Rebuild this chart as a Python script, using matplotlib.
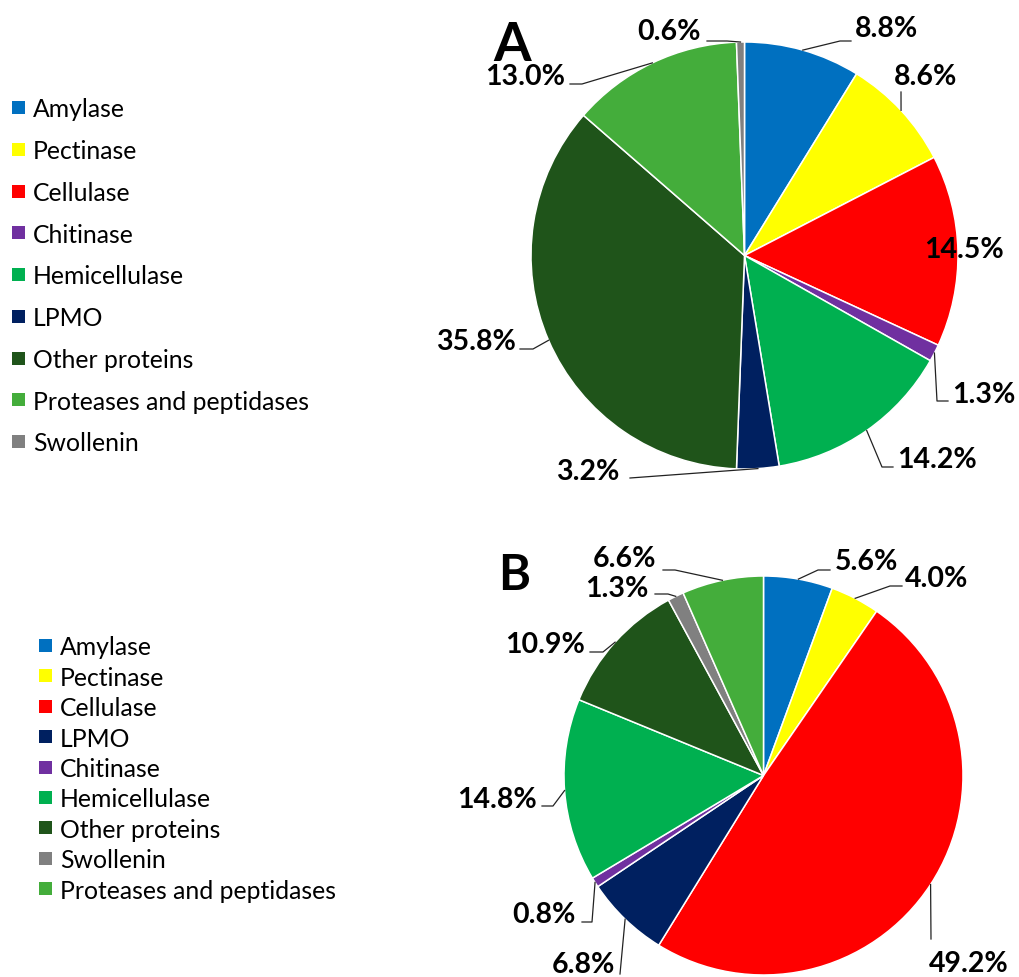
import matplotlib

matplotlib.use("Agg")
import matplotlib.pyplot as plt
import numpy as np
from matplotlib.patches import Rectangle

W, H = 1019, 978

COLORS = {
    "Amylase": "#0070C0",
    "Pectinase": "#FFFF00",
    "Cellulase": "#FF0000",
    "Chitinase": "#7030A0",
    "Hemicellulase": "#00B050",
    "LPMO": "#002060",
    "Other proteins": "#1F541A",
    "Proteases and peptidases": "#44AD3B",
    "Swollenin": "#808080",
}

LABELS_A = ["Amylase", "Pectinase", "Cellulase", "Chitinase", "Hemicellulase",
            "LPMO", "Other proteins", "Proteases and peptidases", "Swollenin"]
VALUES_A = [8.8, 8.6, 14.5, 1.3, 14.2, 3.2, 35.8, 13.0, 0.6]

LABELS_B = ["Amylase", "Pectinase", "Cellulase", "LPMO", "Chitinase",
            "Hemicellulase", "Other proteins", "Swollenin", "Proteases and peptidases"]
VALUES_B = [5.6, 4.0, 49.2, 6.8, 0.8, 14.8, 10.9, 1.3, 6.6]

# label placement in pixel coords: text centre x, text baseline y, leader points
LAYOUT_A = [
    (887, 37, [(840, 42), (851, 42)]),
    (926, 85, [(901, 93)]),
    (964, 258, []),
    (984, 403, [(937, 402), (948, 402)]),
    (937, 468, [(882, 468), (893, 468)]),
    (588, 480, [(630, 479)]),
    (476, 350, [(533, 350), (520, 350)]),
    (525, 85, [(582, 85), (570, 85)]),
    (669, 40, [(727, 42), (707, 42)]),
]
LAYOUT_B = [
    (866, 570, [(818, 571), (830, 571)]),
    (937, 587, [(890, 587), (902, 587)]),
    (969, 972, [(931, 940)]),
    (583, 973, [(620, 975)]),
    (544, 923, [(592, 923), (582, 923)]),
    (497, 808, [(553, 807), (542, 807)]),
    (545, 653, [(603, 653), (590, 653)]),
    (617, 597, [(668, 595), (655, 595)]),
    (625, 567, [(675, 571), (663, 571)]),
]

FONT = "Lato"


def draw_pie(ax, values, labels, layout, center, radius):
    cx, cy = center[0], H - center[1]
    wedges, _ = ax.pie(values, colors=[COLORS[l] for l in labels], startangle=90,
                       counterclock=False, center=(cx, cy), radius=radius,
                       wedgeprops=dict(edgecolor="white", linewidth=1.1))
    for w, v, (tx, ty, pts) in zip(wedges, values, layout):
        ang = np.deg2rad((w.theta1 + w.theta2) / 2)
        if pts:
            xs = [cx + radius * np.cos(ang)] + [p[0] for p in pts]
            ys = [cy + radius * np.sin(ang)] + [H - p[1] for p in pts]
            ax.plot(xs, ys, color="#222222", lw=0.9)
        ax.text(tx, H - ty, f"{v:.1f}%", ha="center", va="baseline",
                fontsize=20.5, fontweight="bold", family=FONT)


def draw_legend(ax, labels, x0, y0, step):
    for i, lab in enumerate(labels):
        yc = y0 + i * step
        ax.add_patch(Rectangle((x0, H - yc - 6.5), 13, 13, color=COLORS[lab], lw=0))
        ax.text(x0 + 21, H - (yc + 9), lab, ha="left", va="baseline",
                fontsize=17.8, family=FONT)


fig = plt.figure(figsize=(W / 100, H / 100), dpi=100)
ax = fig.add_axes([0, 0, 1, 1])

draw_pie(ax, VALUES_A, LABELS_A, LAYOUT_A, (744.5, 256.5), 213.5)
draw_pie(ax, VALUES_B, LABELS_B, LAYOUT_B, (763.5, 776.5), 199.5)

draw_legend(ax, LABELS_A, 12, 108.5, 41.75)
draw_legend(ax, LABELS_B, 39, 646.5, 30.4)

ax.text(512, H - 61, "A", ha="center", va="baseline", fontsize=39,
        fontweight="bold", family=FONT)
ax.text(514, H - 590, "B", ha="center", va="baseline", fontsize=35,
        fontweight="bold", family=FONT)

ax.set_xlim(0, W)
ax.set_ylim(0, H)
ax.set_aspect("equal")
ax.axis("off")

fig.savefig("out.png", dpi=100)
plt.close(fig)
